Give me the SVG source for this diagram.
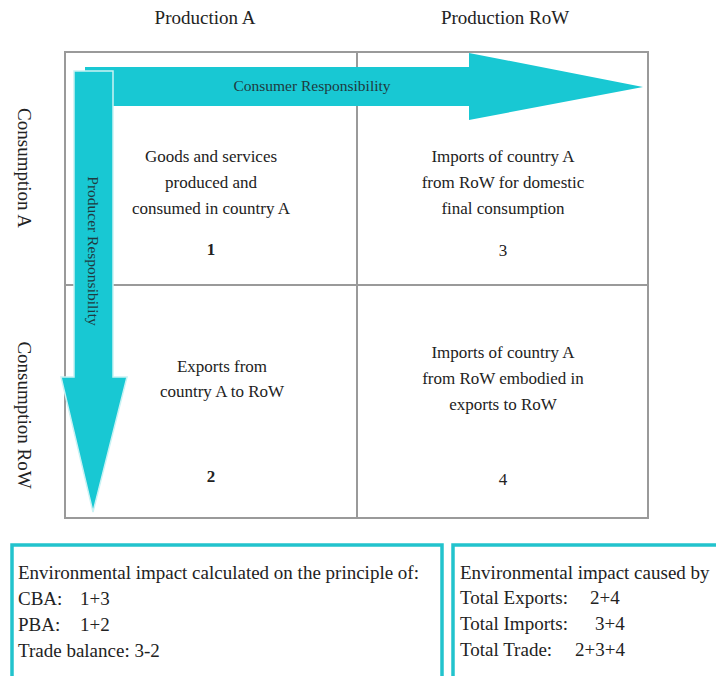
<svg xmlns="http://www.w3.org/2000/svg" width="716" height="676" viewBox="0 0 716 676">
<style>
text{font-family:"Liberation Serif","Times New Roman",serif;fill:#222}
.hdr{font-size:19px}
.cell{font-size:17px;text-anchor:middle}
.num{font-size:17px;text-anchor:middle}
.b{font-weight:bold}
.arrlbl{font-size:15.5px;text-anchor:middle;fill:#1f3a40}
.box{font-size:19px}
.grid{fill:none;stroke:#9a9a9a;stroke-width:2}
.arrow{fill:#18c8d3}
.panel{fill:#fff;stroke:#22c3cd;stroke-width:3.5}
</style>
<rect width="716" height="676" fill="#fff"/>
<g id="headers">
<text class="hdr" x="205" y="24" text-anchor="middle">Production A</text>
<text class="hdr" x="505" y="24" text-anchor="middle">Production RoW</text>
<text class="hdr" transform="translate(18,168) rotate(90)" text-anchor="middle">Consumption A</text>
<text class="hdr" transform="translate(18,415) rotate(90)" text-anchor="middle">Consumption RoW</text>
</g>
<g id="grid">
<rect class="grid" x="65" y="52" width="583" height="466"/>
<line class="grid" x1="357" y1="52" x2="357" y2="518"/>
<line class="grid" x1="65" y1="285" x2="648" y2="285"/>
</g>
<g id="cell1">
<text class="cell" x="211" y="162">Goods and services</text>
<text class="cell" x="211" y="188">produced and</text>
<text class="cell" x="211" y="214">consumed in country A</text>
<text class="num b" x="211" y="255">1</text>
</g>
<g id="cell3">
<text class="cell" x="503" y="162">Imports of  country A</text>
<text class="cell" x="503" y="188">from RoW for domestic</text>
<text class="cell" x="503" y="214">final consumption</text>
<text class="num" x="503" y="256">3</text>
</g>
<g id="cell2">
<text class="cell" x="222" y="372">Exports from</text>
<text class="cell" x="222" y="397">country A to RoW</text>
<text class="num b" x="211" y="482">2</text>
</g>
<g id="cell4">
<text class="cell" x="503" y="358">Imports of  country A</text>
<text class="cell" x="503" y="384">from RoW embodied in</text>
<text class="cell" x="503" y="410">exports to RoW</text>
<text class="num" x="503" y="485">4</text>
</g>
<g id="connectors">
<g id="consumer-arrow">
<polygon class="arrow" points="85,67 469,67 469,53 643,87 469,120 469,106 85,106"/>
<text class="arrlbl" x="312" y="91">Consumer Responsibility</text>
</g>
<g id="producer-arrow">
<polygon class="arrow" points="74,71 113,71 113,377 127,377 93,512 61,377 74,377" stroke="#c9f2f4" stroke-width="1.5"/>
<text class="arrlbl" transform="translate(88,251) rotate(90)">Producer Responsibility</text>
</g>
</g>
<g id="panel-left">
<rect class="panel" x="12" y="545" width="430" height="150"/>
<text class="box" x="18" y="579">Environmental impact calculated on the principle of:</text>
<text class="box" x="18" y="605">CBA:</text><text class="box" x="80" y="605">1+3</text>
<text class="box" x="18" y="631">PBA:</text><text class="box" x="80" y="631">1+2</text>
<text class="box" x="18" y="657">Trade balance: 3-2</text>
</g>
<g id="panel-right">
<rect class="panel" x="453" y="545" width="280" height="150"/>
<text class="box" x="460" y="579">Environmental impact caused by</text>
<text class="box" x="460" y="604">Total Exports:</text><text class="box" x="590" y="604">2+4</text>
<text class="box" x="460" y="630">Total Imports:</text><text class="box" x="595" y="630">3+4</text>
<text class="box" x="460" y="656">Total Trade:</text><text class="box" x="575" y="656">2+3+4</text>
</g>
</svg>
